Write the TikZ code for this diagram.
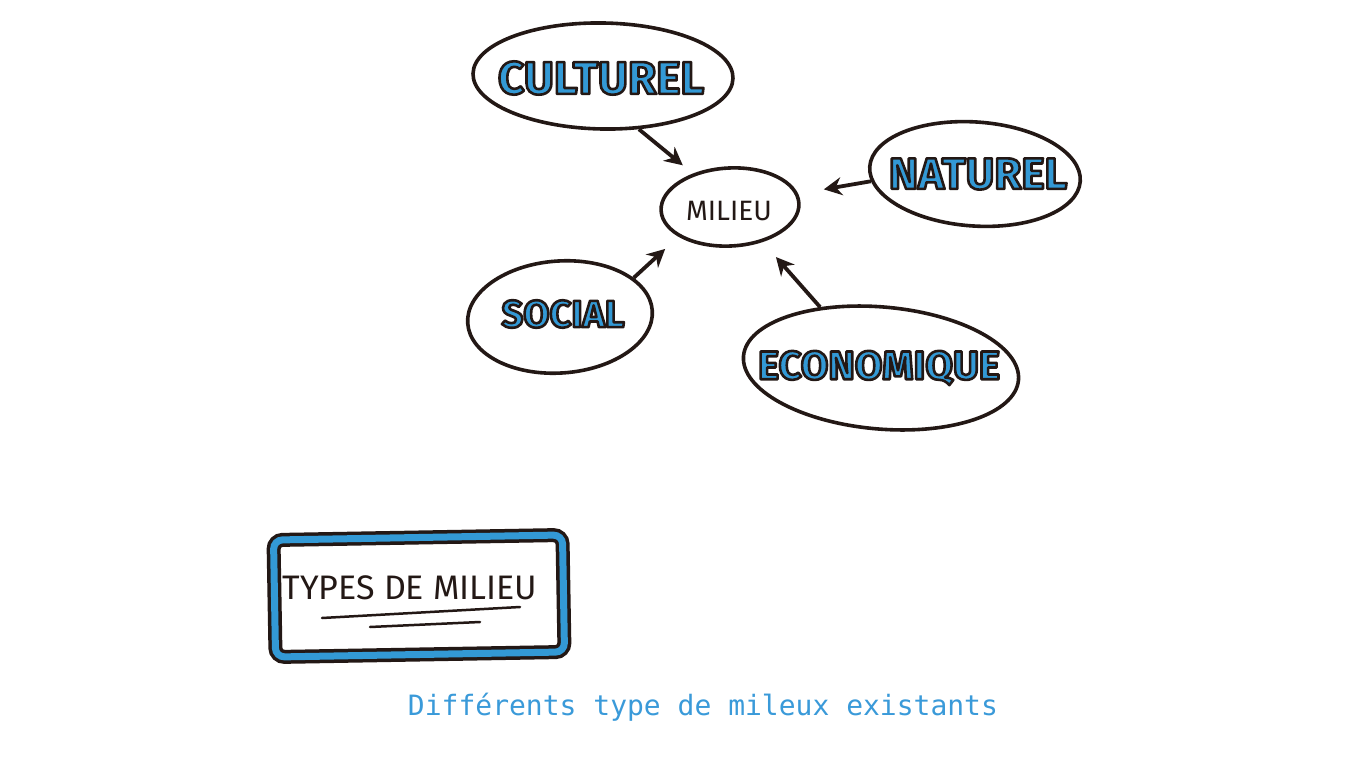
\documentclass[tikz,border=0pt]{standalone}
\usepackage{fontspec}
\setmainfont{Fira Sans}
\newfontfamily\capfont{DejaVu Sans Mono}
\usetikzlibrary{shapes.geometric,arrows.meta}
\definecolor{ink}{HTML}{231815}
\definecolor{inkblue}{HTML}{3399D5}
\definecolor{capblue}{HTML}{3A9AD9}
% blue letters with a dark outline (fill and stroke render mode)
\newcommand\inked[1]{\special{pdf:code 2 Tr 2.6 w 1 j 0.137 0.094 0.082 RG}#1\special{pdf:code 0 Tr}}
\begin{document}
\begin{tikzpicture}[x=1pt,y=-1pt,
    bubble/.style={ellipse,draw=ink,line width=3.6pt,fill=white,inner sep=0pt},
    word/.style={text=inkblue,font=\bfseries\fontsize{#1}{#1}\selectfont},
    link/.style={draw=ink,line width=3.8pt,-{Stealth[length=18pt,width=18pt]}}]
  \useasboundingbox (0,0) rectangle (1361,781);
  % bubbles
  \node[bubble,minimum width=260pt,minimum height=106pt,rotate=-1] (cult) at (603,76) {};
  \node[word=46] (cultlabel) at (601,78) {\inked{CULTUREL}};
  \node[bubble,minimum width=138pt,minimum height=78pt,rotate=3] (mil) at (730,207) {};
  \node[text=ink,font=\fontsize{28}{28}\selectfont] (millabel) at (729,211) {MILIEU};
  \node[bubble,minimum width=211pt,minimum height=104pt,rotate=-4] (nat) at (975,174) {};
  \node[word=44] (natlabel) at (978,174) {\inked{NATUREL}};
  \node[bubble,minimum width=185pt,minimum height=112pt,rotate=4] (soc) at (560,317) {};
  \node[word=38] (soclabel) at (563,314) {\inked{SOCIAL}};
  \node[bubble,minimum width=276pt,minimum height=122pt,rotate=-5] (eco) at (881,368) {};
  \node[word=40] (ecolabel) at (879,368) {\inked{ECONOMIQUE}};
  % arrows towards milieu
  \draw[link,shorten >=13pt] (cult.-55) -- (mil.135);
  \draw[link,shorten >=26pt] (nat.188) -- (mil.8);
  \draw[link,shorten >=18pt] (soc.24) -- (mil.207);
  \draw[link,shorten >=20pt] (eco.140) -- (mil.-50);
  % title box
  \node[draw=ink,double=inkblue,double distance=7pt,line width=3.5pt,fill=white,
    minimum width=289pt,minimum height=117pt,rounded corners=9pt,rotate=1] (typebox) at (419,596) {};
  \node[text=ink,font=\fontsize{34}{34}\selectfont] (typelabel) at (410,588) {TYPES DE MILIEU};
  \draw[ink,line width=2.5pt,line cap=round] (322,618) -- (520,607);
  \draw[ink,line width=2.5pt,line cap=round] (370,627) -- (480,622);
  % caption
  \node[text=capblue,font=\capfont\fontsize{28}{30}\selectfont] (caption) at (703,707) {Différents type de mileux existants};
\end{tikzpicture}
\end{document}
